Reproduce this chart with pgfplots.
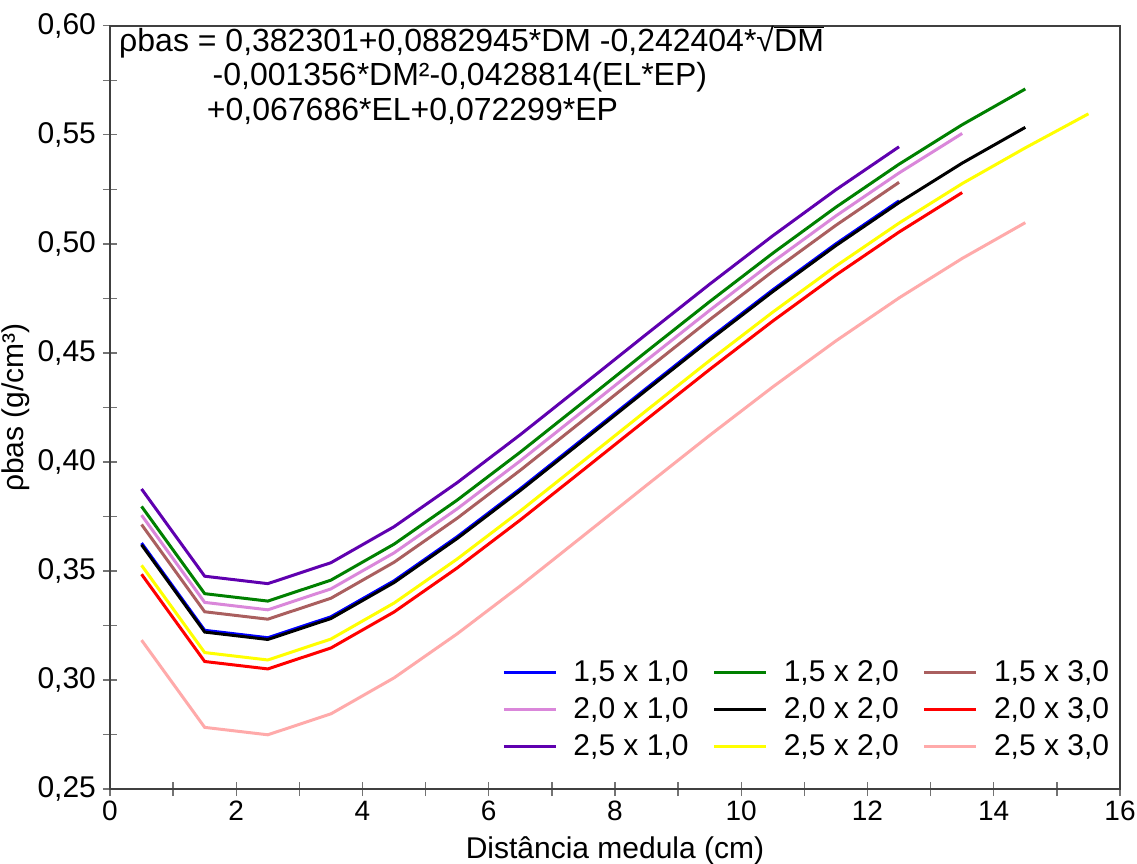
\documentclass[border=0pt]{standalone}
\usepackage{pgfplots}
\pgfplotsset{compat=1.18}
\usepackage{fontspec}
\setmainfont{Liberation Sans}
\definecolor{cBlue}{RGB}{0,0,255}
\definecolor{cGreen}{RGB}{0,128,0}
\definecolor{cBrown}{RGB}{170,95,95}
\definecolor{cViolet}{RGB}{218,135,218}
\definecolor{cRed}{RGB}{255,0,0}
\definecolor{cPurple}{RGB}{95,0,175}
\definecolor{cYellow}{RGB}{255,255,0}
\definecolor{cPink}{RGB}{255,170,170}
\newcommand{\fs}{\fontsize{15}{18}\selectfont}
\begin{document}
\begin{tikzpicture}
\useasboundingbox (-55pt,-37pt) rectangle (513.5pt,394.55pt);
\begin{axis}[
  at={(0,0)}, anchor=south west,
  scale only axis, width=505pt, height=381.7pt,
  xmin=0, xmax=16, ymin=0.25, ymax=0.60,
  xtick={0,2,4,6,8,10,12,14,16},
  minor xtick={1,3,5,7,9,11,13,15},
  ytick={0.25,0.30,0.35,0.40,0.45,0.50,0.55,0.60},
  minor ytick={0.275,0.325,0.375,0.425,0.475,0.525,0.575},
  xtick pos=left, ytick pos=left,
  tick align=center, major tick length=7pt, minor tick length=7pt,
  axis line style={black!75, line width=1pt},
  tick style={black!55, line width=0.7pt},
  /pgf/number format/assume math mode=true,
  yticklabel style={font=\fs, /pgf/number format/.cd, use comma, fixed, fixed zerofill, precision=2},
  xticklabel style={font=\fontsize{14}{16}\selectfont, yshift=1pt},
  xlabel={Distância medula (cm)},
  ylabel={ρbas (g/cm³)},
  label style={font=\fs},
  xlabel style={yshift=-1pt},
  ylabel style={yshift=-3pt},
  legend columns=3,
  legend cell align=left,
  legend style={draw=none, fill=none, font=\fs, at={(0.388,0.174)}, anchor=north west, inner sep=0pt,
    /tikz/every odd column/.append style={column sep=6pt},
    /tikz/every even column/.append style={column sep=10pt}, row sep=2.5pt},
  legend image code/.code={\draw[#1, line width=1.6pt] (0pt,0pt) -- (26pt,0pt);},
  clip=false,
]
% 1,5 x 1,0
\addplot[cBlue, line width=1.5pt] coordinates {
(0.5,0.3628) (1.5,0.3228) (2.5,0.3194) (3.5,0.3290) (4.5,0.3455) (5.5,0.3657) (6.5,0.3877)
(7.5,0.4107) (8.5,0.4338) (9.5,0.4567) (10.5,0.4789) (11.5,0.5000) (12.5,0.5197)};
\addlegendentry{1,5 x 1,0}
% 1,5 x 2,0
\addplot[cGreen, line width=1.5pt] coordinates {
(0.5,0.3796) (1.5,0.3396) (2.5,0.3362) (3.5,0.3458) (4.5,0.3623) (5.5,0.3825) (6.5,0.4045)
(7.5,0.4275) (8.5,0.4506) (9.5,0.4735) (10.5,0.4957) (11.5,0.5168) (12.5,0.5365) (13.5,0.5546) (14.5,0.5710)};
\addlegendentry{1,5 x 2,0}
% 1,5 x 3,0
\addplot[cBrown, line width=1.5pt] coordinates {
(0.5,0.3713) (1.5,0.3313) (2.5,0.3279) (3.5,0.3375) (4.5,0.3540) (5.5,0.3742) (6.5,0.3962)
(7.5,0.4192) (8.5,0.4423) (9.5,0.4652) (10.5,0.4874) (11.5,0.5085) (12.5,0.5282)};
\addlegendentry{1,5 x 3,0}
% 2,0 x 1,0
\addplot[cViolet, line width=1.5pt] coordinates {
(0.5,0.3756) (1.5,0.3356) (2.5,0.3322) (3.5,0.3418) (4.5,0.3583) (5.5,0.3785) (6.5,0.4005)
(7.5,0.4235) (8.5,0.4466) (9.5,0.4695) (10.5,0.4917) (11.5,0.5128) (12.5,0.5325) (13.5,0.5506)};
\addlegendentry{2,0 x 1,0}
% 2,0 x 2,0
\addplot[black, line width=1.5pt] coordinates {
(0.5,0.3620) (1.5,0.3220) (2.5,0.3186) (3.5,0.3282) (4.5,0.3447) (5.5,0.3649) (6.5,0.3869)
(7.5,0.4099) (8.5,0.4330) (9.5,0.4559) (10.5,0.4781) (11.5,0.4992) (12.5,0.5189) (13.5,0.5370) (14.5,0.5534)};
\addlegendentry{2,0 x 2,0}
% 2,0 x 3,0
\addplot[cRed, line width=1.5pt] coordinates {
(0.5,0.3485) (1.5,0.3085) (2.5,0.3051) (3.5,0.3147) (4.5,0.3312) (5.5,0.3514) (6.5,0.3734)
(7.5,0.3964) (8.5,0.4195) (9.5,0.4424) (10.5,0.4646) (11.5,0.4857) (12.5,0.5054) (13.5,0.5235)};
\addlegendentry{2,0 x 3,0}
% 2,5 x 1,0
\addplot[cPurple, line width=1.5pt] coordinates {
(0.5,0.3876) (1.5,0.3476) (2.5,0.3442) (3.5,0.3538) (4.5,0.3703) (5.5,0.3905) (6.5,0.4125)
(7.5,0.4355) (8.5,0.4586) (9.5,0.4815) (10.5,0.5037) (11.5,0.5248) (12.5,0.5445)};
\addlegendentry{2,5 x 1,0}
% 2,5 x 2,0
\addplot[cYellow, line width=1.5pt] coordinates {
(0.5,0.3526) (1.5,0.3126) (2.5,0.3092) (3.5,0.3188) (4.5,0.3353) (5.5,0.3555) (6.5,0.3775)
(7.5,0.4005) (8.5,0.4236) (9.5,0.4465) (10.5,0.4687) (11.5,0.4898) (12.5,0.5095) (13.5,0.5276) (14.5,0.5440) (15.5,0.5596)};
\addlegendentry{2,5 x 2,0}
% 2,5 x 3,0
\addplot[cPink, line width=1.5pt] coordinates {
(0.5,0.3183) (1.5,0.2783) (2.5,0.2749) (3.5,0.2845) (4.5,0.3010) (5.5,0.3212) (6.5,0.3432)
(7.5,0.3662) (8.5,0.3893) (9.5,0.4122) (10.5,0.4344) (11.5,0.4555) (12.5,0.4752) (13.5,0.4933) (14.5,0.5097)};
\addlegendentry{2,5 x 3,0}
\node[anchor=west, font=\fontsize{16}{19}\selectfont, inner sep=0pt] at (axis cs:0.14,0.5925) {ρbas = 0,382301+0,0882945*DM -0,242404*√$\overline{\mbox{DM}}$};
\node[anchor=west, font=\fontsize{16}{19}\selectfont, inner sep=0pt] at (axis cs:1.62,0.5765) {-0,001356*DM²-0,0428814(EL*EP)};
\node[anchor=west, font=\fontsize{16}{19}\selectfont, inner sep=0pt] at (axis cs:1.53,0.5605) {+0,067686*EL+0,072299*EP};
\end{axis}
\end{tikzpicture}
\end{document}
